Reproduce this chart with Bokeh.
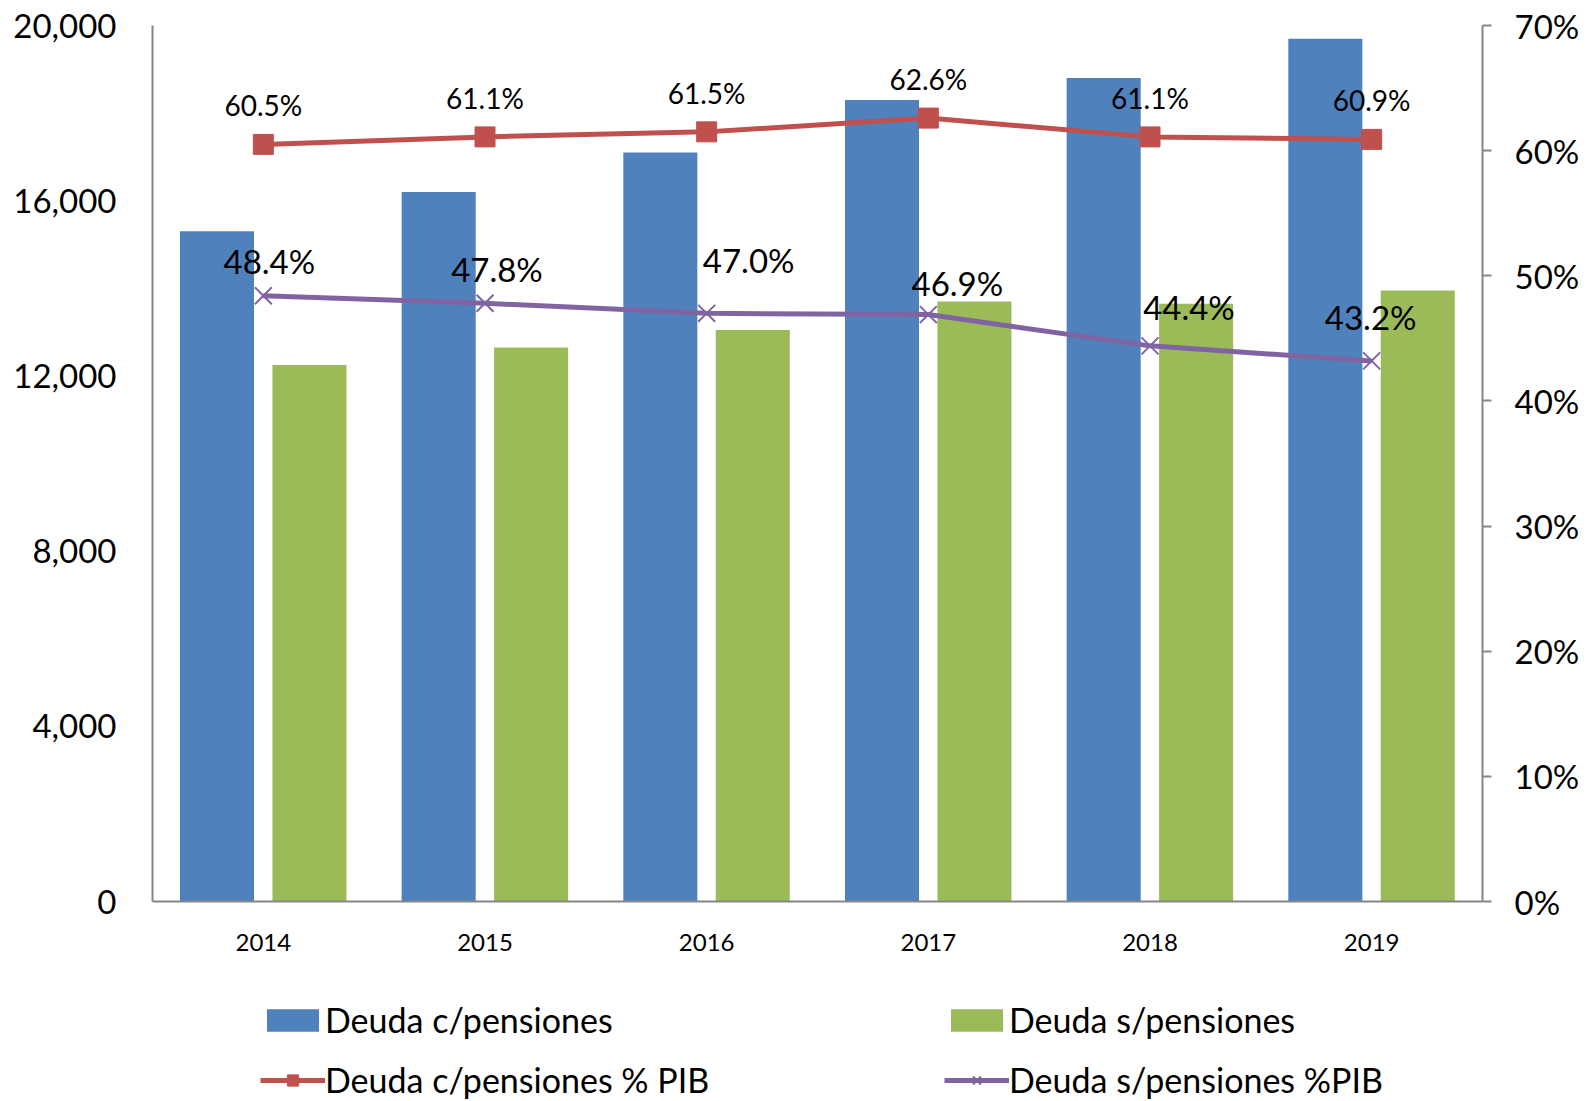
from bokeh.plotting import figure
from bokeh.layouts import column
from bokeh.models import (ColumnDataSource, FactorRange, Range1d, LinearAxis, FixedTicker,
                          NumeralTickFormatter, PrintfTickFormatter, Legend, LegendItem, LabelSet)
from bokeh.transform import dodge
from bokeh.core.properties import value
from bokeh.embed import file_html
from bokeh.resources import INLINE

# ---- data ----
years = ["2014", "2015", "2016", "2017", "2018", "2019"]
deuda_c = [15300, 16200, 17100, 18300, 18800, 19700]
deuda_s = [12250, 12650, 13050, 13700, 13650, 13950]
pct_c = [60.5, 61.1, 61.5, 62.6, 61.1, 60.9]
pct_s = [48.4, 47.8, 47.0, 46.9, 44.4, 43.2]
left_ticks = [0, 4000, 8000, 12000, 16000, 20000]
right_ticks = [0, 10, 20, 30, 40, 50, 60, 70]
series_names = ["Deuda c/pensiones", "Deuda s/pensiones",
                "Deuda c/pensiones % PIB", "Deuda s/pensiones %PIB"]

# label placement (screen px, styling only)
lab_s_dx = [6, 12, 42, 29, 39, -1]
lab_s_dy = [35, 34, 53, 32, 39, 44]

FONT = "Lato"
BLUE, GREEN, RED, PURPLE = "#4F81BD", "#9BBB59", "#C0504D", "#8064A2"
GRAY = "#868686"

src = ColumnDataSource(dict(
    years=years, deuda_c=deuda_c, deuda_s=deuda_s, pct_c=pct_c, pct_s=pct_s,
    lab_c=[f"{v:.1f}%" for v in pct_c], lab_s=[f"{v:.1f}%" for v in pct_s],
    dx=lab_s_dx, dy=lab_s_dy,
))

p = figure(x_range=FactorRange(*years, range_padding=0), y_range=Range1d(0, 20000),
           frame_width=1330, frame_height=876, width=1585, height=995,
           min_border_left=152, min_border_top=25, min_border_right=103, min_border_bottom=94,
           output_backend="svg", toolbar_location=None, tools="")
p.extra_y_ranges = {"pct": Range1d(0, 70)}
p.outline_line_color = None
p.xgrid.visible = False
p.ygrid.visible = False

b1 = p.vbar(x=dodge("years", -0.209, range=p.x_range), top="deuda_c", width=0.334,
            source=src, fill_color=BLUE, line_color=None)
b2 = p.vbar(x=dodge("years", 0.208, range=p.x_range), top="deuda_s", width=0.334,
            source=src, fill_color=GREEN, line_color=None)

l1 = p.line(x="years", y="pct_c", source=src, y_range_name="pct", line_color=RED, line_width=5)
s1 = p.scatter(x="years", y="pct_c", source=src, y_range_name="pct", marker="square",
               size=20, fill_color=RED, line_color=RED)
l2 = p.line(x="years", y="pct_s", source=src, y_range_name="pct", line_color=PURPLE, line_width=5)
s2 = p.scatter(x="years", y="pct_s", source=src, y_range_name="pct", marker="x",
               size=24, line_color=PURPLE, line_width=2)

p.add_layout(LabelSet(x="years", y="pct_c", text="lab_c", source=src, y_range_name="pct",
                      y_offset=39, text_align="center", text_baseline="middle",
                      text_font=value(FONT), text_font_size="28px", text_color="black"))
p.add_layout(LabelSet(x="years", y="pct_s", text="lab_s", source=src, y_range_name="pct",
                      x_offset="dx", y_offset="dy", text_align="center", text_baseline="middle",
                      text_font=value(FONT), text_font_size="33px", text_color="black"))

# axes
ya = p.yaxis[0]
ya.ticker = FixedTicker(ticks=left_ticks)
ya.formatter = NumeralTickFormatter(format="0,0")
ya.major_tick_line_color = None
ya.minor_tick_line_color = None
ya.axis_line_color = GRAY
ya.axis_line_width = 2
ya.major_label_standoff = 30
ya.major_label_text_font = FONT
ya.major_label_text_font_size = "33px"
ya.major_label_text_color = "black"

ra = LinearAxis(y_range_name="pct", ticker=FixedTicker(ticks=right_ticks),
                formatter=PrintfTickFormatter(format="%d%%"))
ra.major_tick_in = 0
ra.major_tick_out = 9
ra.major_tick_line_color = GRAY
ra.major_tick_line_width = 2
ra.minor_tick_line_color = None
ra.axis_line_color = GRAY
ra.axis_line_width = 2
ra.major_label_standoff = 23
ra.major_label_text_font = FONT
ra.major_label_text_font_size = "33px"
ra.major_label_text_color = "black"
p.add_layout(ra, "right")

xa = p.xaxis[0]
xa.major_tick_line_color = None
xa.minor_tick_line_color = None
xa.axis_line_color = GRAY
xa.axis_line_width = 2
xa.major_label_standoff = 26
xa.major_label_text_font = FONT
xa.major_label_text_font_size = "24px"
xa.major_label_text_color = "black"

# ---- legend strip (second figure, same series styles; its glyphs hold no visible point) ----
lg = figure(width=1585, height=106, x_range=Range1d(0, 1), y_range=Range1d(0, 1),
            min_border=0, output_backend="svg", toolbar_location=None, tools="")
lg.axis.visible = False
lg.grid.visible = False
lg.outline_line_color = None
nan = float("nan")
hidden = ColumnDataSource(dict(x=[nan], y=[nan], top=[nan]))
g1 = lg.vbar(x="x", top="top", width=0.1, source=hidden, fill_color=BLUE, line_color=None)
g2 = lg.vbar(x="x", top="top", width=0.1, source=hidden, fill_color=GREEN, line_color=None)
g3 = lg.line(x="x", y="y", source=hidden, line_color=RED, line_width=5)
g4 = lg.scatter(x="x", y="y", source=hidden, marker="square", size=20, fill_color=RED, line_color=RED)
g5 = lg.line(x="x", y="y", source=hidden, line_color=PURPLE, line_width=5)
g6 = lg.scatter(x="x", y="y", source=hidden, marker="x", size=24, line_color=PURPLE, line_width=2)

legend = Legend(items=[
    LegendItem(label=series_names[0], renderers=[g1]),
    LegendItem(label=series_names[1], renderers=[g2]),
    LegendItem(label=series_names[2], renderers=[g3, g4]),
    LegendItem(label=series_names[3], renderers=[g5, g6]),
], ncols=2, orientation="horizontal", location=(108, 1),
    glyph_width=65, glyph_height=28, label_standoff=0, label_width=600, label_height=41,
    spacing=19, padding=0, margin=0, border_line_color=None, background_fill_alpha=0,
    label_text_font=FONT, label_text_font_size="34px", label_text_color="black")
lg.add_layout(legend, "center")

layout = column(p, lg, spacing=0)
open("out.html", "w").write(file_html(layout, INLINE))
